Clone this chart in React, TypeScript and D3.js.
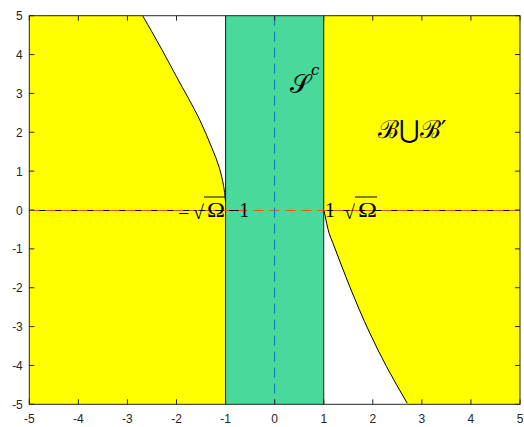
import React from "react";
import * as d3 from "d3";

const W = 524;
const H = 427;

const xTicks = [-5, -4, -3, -2, -1, 0, 1, 2, 3, 4, 5];
const yTicks = [-5, -4, -3, -2, -1, 0, 1, 2, 3, 4, 5];

// Boundary of the left region (from x = -1 up to the top edge)
const leftCurveX = [-1.0, -1.02, -1.06, -1.13, -1.28, -1.52, -2.0, -2.33, -2.69];
const leftCurveY = [0.2, 0.45, 0.75, 1.1, 1.6, 2.3, 3.43, 4.2, 5.0];

// Boundary of the right region (from the bottom edge up to x = 1)
const rightCurveX = [2.7, 2.28, 1.94, 1.53, 1.19, 1.11, 1.06, 1.02, 1.0];
const rightCurveY = [-4.97, -4.03, -3.17, -1.97, -0.86, -0.6, -0.34, -0.1, 0.0];

const bandLeft = -1;
const bandRight = 1;

export default function App() {
  const x = d3.scaleLinear().domain([-5, 5]).range([29.3, 520]);
  const y = d3.scaleLinear().domain([-5, 5]).range([404.3, 15.7]);

  const leftPts: [number, number][] = leftCurveX.map((v, i) => [v, leftCurveY[i]]);
  const rightPts: [number, number][] = rightCurveX.map((v, i) => [v, rightCurveY[i]]);

  const curveGen = d3
    .line<[number, number]>()
    .x((d) => x(d[0]))
    .y((d) => y(d[1]))
    .curve(d3.curveMonotoneY);

  const leftCurvePath = curveGen(leftPts) as string;
  const rightCurvePath = curveGen(rightPts) as string;
  const strip = (p: string) => p.replace(/^M[^CL]*/, "");

  // filled regions bounded by the curves
  const leftArea =
    `M${x(-5)},${y(-5)}L${x(bandLeft)},${y(-5)}L${x(bandLeft)},${y(leftCurveY[0])}` +
    strip(leftCurvePath) +
    `L${x(-5)},${y(5)}Z`;
  const rightArea =
    `M${x(rightCurveX[0])},${y(-5)}` +
    strip(rightCurvePath) +
    `L${x(bandRight)},${y(5)}L${x(5)},${y(5)}L${x(5)},${y(-5)}Z`;

  const axisColor = "#262626";
  const tickLen = 5;
  const labelFont = "Liberation Sans, Arial, sans-serif";
  const mathFont = "DejaVu Serif, Liberation Serif, serif";
  const tFont = "Liberation Serif, Times New Roman, serif";

  const x0 = x(-5);
  const x1 = x(5);
  const y0 = y(-5);
  const y1 = y(5);
  const yz = Math.round(y(0)) + 0.5;

  return (
    <svg
      width={W}
      height={H}
      style={{ position: "absolute", left: 0, top: 0, background: "#fff" }}
    >
      {/* regions */}
      <path d={leftArea} fill="#ffff00" />
      <path d={rightArea} fill="#ffff00" />
      <rect
        x={x(bandLeft)}
        y={y1}
        width={x(bandRight) - x(bandLeft)}
        height={y0 - y1}
        fill="#48d99b"
      />
      {/* band edges */}
      <line x1={x(bandLeft)} x2={x(bandLeft)} y1={y1} y2={y0} stroke="#1a1a1a" strokeWidth={1} />
      <line x1={x(bandRight)} x2={x(bandRight)} y1={y1} y2={y0} stroke="#1a1a1a" strokeWidth={1} />
      {/* boundary curves */}
      <path d={leftCurvePath} fill="none" stroke="#000" strokeWidth={1} />
      <path d={rightCurvePath} fill="none" stroke="#000" strokeWidth={1} />
      {/* real axis segments */}
      <line x1={x0} x2={x(bandLeft)} y1={yz} y2={yz} stroke="#000" strokeWidth={1} />
      <line x1={x(bandRight)} x2={x1} y1={yz} y2={yz} stroke="#000" strokeWidth={1} />
      {/* dashed reference lines */}
      <line
        x1={x0}
        x2={x1}
        y1={yz}
        y2={yz}
        stroke="#e8561c"
        strokeWidth={1.2}
        strokeDasharray="10 6"
      />
      <line
        x1={x(0)}
        x2={x(0)}
        y1={y1}
        y2={y0}
        stroke="#0072bd"
        strokeWidth={1}
        strokeDasharray="10 6"
      />

      {/* region labels */}
      <g fontFamily={mathFont} fill="#000">
        <text x={300} y={93} fontSize={26} textAnchor="middle">
          𝒮
        </text>
        <text x={311} y={75} fontSize={15} fontStyle="italic">
          c
        </text>
        <text x={412} y={138} fontSize={25} textAnchor="middle">
          ℬ⋃ℬ′
        </text>
      </g>

      {/* point labels on the real axis */}
      <g fontFamily={tFont} fill="#000" fontSize={20}>
        <text x={178} y={220}>−</text>
        <text x={193} y={219}>√</text>
        <text x={207} y={217} textLength={18} lengthAdjust="spacingAndGlyphs">Ω</text>
        <line x1={204} x2={225} y1={197} y2={197} stroke="#000" strokeWidth={1} />
        <text x={228} y={217}>−1</text>

        <text x={325} y={217}>1</text>
        <text x={344} y={219}>√</text>
        <text x={358} y={217} textLength={19} lengthAdjust="spacingAndGlyphs">Ω</text>
        <line x1={355} x2={377} y1={197} y2={197} stroke="#000" strokeWidth={1} />
      </g>

      {/* axes box */}
      <rect x={x0} y={y1} width={x1 - x0} height={y0 - y1} fill="none" stroke={axisColor} strokeWidth={1} />
      {xTicks.map((t) => (
        <g key={"xt" + t}>
          <line x1={x(t)} x2={x(t)} y1={y0} y2={y0 - tickLen} stroke={axisColor} />
          <line x1={x(t)} x2={x(t)} y1={y1} y2={y1 + tickLen} stroke={axisColor} />
          <text
            x={x(t)}
            y={y0 + 19}
            fontSize={12}
            fontFamily={labelFont}
            textAnchor="middle"
            fill={axisColor}
          >
            {t}
          </text>
        </g>
      ))}
      {yTicks.map((t) => (
        <g key={"yt" + t}>
          <line x1={x0} x2={x0 + tickLen} y1={y(t)} y2={y(t)} stroke={axisColor} />
          <line x1={x1} x2={x1 - tickLen} y1={y(t)} y2={y(t)} stroke={axisColor} />
          <text
            x={x0 - 6.5}
            y={y(t) + 4.5}
            fontSize={12}
            fontFamily={labelFont}
            textAnchor="end"
            fill={axisColor}
          >
            {t}
          </text>
        </g>
      ))}
    </svg>
  );
}
